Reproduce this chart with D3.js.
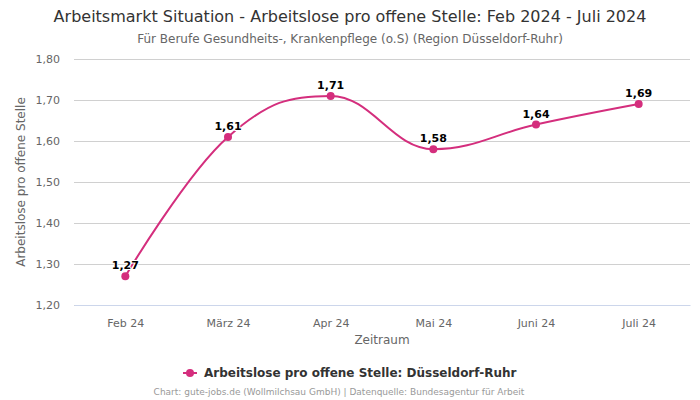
<!DOCTYPE html>
<html><head><meta charset="utf-8">
<script src="https://cdn.jsdelivr.net/npm/d3@7"></script>
<style>body{margin:0;background:#fff}svg{display:block;font-family:"DejaVu Sans",sans-serif}</style>
</head><body><svg id="c" width="700" height="400"></svg>
<script>
const categories = ["Feb 24","März 24","Apr 24","Mai 24","Juni 24","Juli 24"];
const values = [1.27,1.61,1.71,1.58,1.64,1.69];
const yTicks = [1.2,1.3,1.4,1.5,1.6,1.7,1.8];
const seriesName = "Arbeitslose pro offene Stelle: Düsseldorf-Ruhr";
const color = "#d42e7d";
const fmt = v => v.toFixed(2).replace(".", ",");

const svg = d3.select("#c");
const L=74,R=690,T=59,B=305;
const x = d3.scalePoint().domain(categories).range([L,R]).padding(0.5);
const y = d3.scaleLinear().domain([1.2,1.8]).range([B,T]);

svg.append("text").attr("x",350).attr("y",22).attr("text-anchor","middle").attr("font-size",16).attr("fill","#333")
  .text("Arbeitsmarkt Situation - Arbeitslose pro offene Stelle: Feb 2024 - Juli 2024");
svg.append("text").attr("x",350).attr("y",43).attr("text-anchor","middle").attr("font-size",12).attr("fill","#666")
  .text("Für Berufe Gesundheits-, Krankenpflege (o.S) (Region Düsseldorf-Ruhr)");

const ya = svg.append("g").attr("transform",`translate(${L},0)`)
  .call(d3.axisLeft(y).tickValues(yTicks).tickSize(-(R-L)).tickFormat(fmt));
ya.select(".domain").remove();
ya.selectAll(".tick line").attr("stroke","#d0d0d0");
ya.selectAll(".tick text").attr("x",-14).attr("font-size",11).attr("fill","#666").attr("font-family","DejaVu Sans");

const xa = svg.append("g").attr("transform",`translate(0,${B})`)
  .call(d3.axisBottom(x).tickSize(0).tickPadding(14));
xa.select(".domain").attr("stroke","#ccd6eb");
xa.selectAll(".tick text").attr("font-size",11).attr("fill","#666").attr("font-family","DejaVu Sans");

svg.append("text").attr("transform",`translate(25,${(T+B)/2}) rotate(-90)`).attr("text-anchor","middle")
  .attr("font-size",12).attr("fill","#666").text("Arbeitslose pro offene Stelle");
svg.append("text").attr("x",(L+R)/2).attr("y",344).attr("text-anchor","middle")
  .attr("font-size",12).attr("fill","#666").text("Zeitraum");

// Highcharts-style spline
function splinePath(pts){
  const s=1.5, den=s+1;
  const ctrl = pts.map(()=>({}));
  let d = `M${pts[0][0]},${pts[0][1]}`;
  for(let i=1;i<pts.length;i++){
    const [px,py]=pts[i];
    let lx=px, ly=py;
    if(i<pts.length-1){
      const [ax,ay]=pts[i-1],[nx,ny]=pts[i+1];
      lx=(s*px+ax)/den; ly=(s*py+ay)/den;
      let rx=(s*px+nx)/den, ry=(s*py+ny)/den;
      if(rx!==lx){const c=((ry-ly)*(rx-px))/(rx-lx)+py-ry; ly+=c; ry+=c;}
      if(ly>ay&&ly>py){ly=Math.max(ay,py); ry=2*py-ly;}
      else if(ly<ay&&ly<py){ly=Math.min(ay,py); ry=2*py-ly;}
      if(ry>ny&&ry>py){ry=Math.max(ny,py); ly=2*py-ry;}
      else if(ry<ny&&ry<py){ry=Math.min(ny,py); ly=2*py-ry;}
      ctrl[i]={rx,ry};
    }
    const pr = ctrl[i-1].rx!==undefined ? [ctrl[i-1].rx,ctrl[i-1].ry] : pts[i-1];
    d += `C${pr[0]},${pr[1]} ${lx},${ly} ${px},${py}`;
  }
  return d;
}
const pts = values.map((v,i)=>[x(categories[i]), y(v)]);
svg.append("path").attr("d",splinePath(pts)).attr("fill","none").attr("stroke",color).attr("stroke-width",2);
svg.selectAll("circle.pt").data(values).enter().append("circle").attr("class","pt")
  .attr("cx",(d,i)=>x(categories[i])).attr("cy",d=>y(d)).attr("r",4).attr("fill",color);
svg.selectAll("text.lbl").data(values).enter().append("text").attr("class","lbl")
  .attr("x",(d,i)=>x(categories[i])).attr("y",d=>y(d)-7).attr("text-anchor","middle")
  .attr("font-size",11).attr("font-weight","bold").attr("fill","#000")
  .attr("stroke","#fff").attr("stroke-width",2).attr("paint-order","stroke").attr("stroke-linejoin","round")
  .text(fmt);

const lg = svg.append("g");
lg.append("line").attr("x1",183).attr("x2",197).attr("y1",373).attr("y2",373).attr("stroke",color).attr("stroke-width",2);
lg.append("circle").attr("cx",190).attr("cy",373).attr("r",4).attr("fill",color);
lg.append("text").attr("x",204).attr("y",377).attr("font-size",12).attr("font-weight","bold").attr("fill","#333").text(seriesName);

svg.append("text").attr("x",339).attr("y",395).attr("text-anchor","middle").attr("font-size",9).attr("fill","#999")
  .text("Chart: gute-jobs.de (Wollmilchsau GmbH) | Datenquelle: Bundesagentur für Arbeit");
</script></body></html>
